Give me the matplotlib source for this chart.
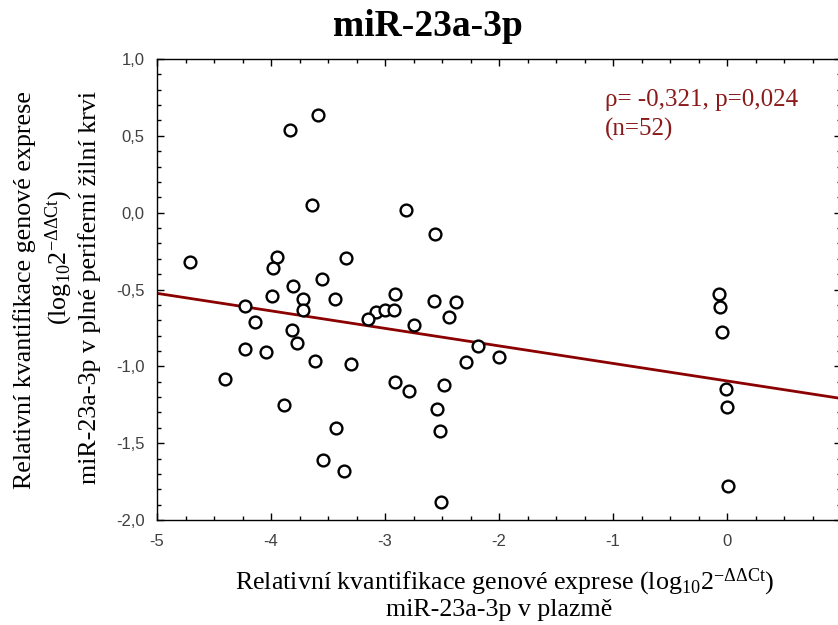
import numpy as np
import matplotlib
matplotlib.use("Agg")
import matplotlib.pyplot as plt
from matplotlib.ticker import MultipleLocator, FuncFormatter

plt.rcParams['mathtext.fontset'] = 'custom'
plt.rcParams['mathtext.rm'] = 'Liberation Serif'
plt.rcParams['mathtext.it'] = 'Liberation Serif:italic'

# plasma (x) vs whole blood (y), log10 2^-ddCt
plasma = [-3.59, -3.83, -3.64, -2.82, -2.56, -4.71, -3.95, -3.98, -3.34, -3.55,
          -3.81, -3.99, -3.72, -3.44, -2.91, -2.57, -2.38, -4.23, -3.72, -3.08,
          -3.00, -2.92, -3.15, -2.44, -4.14, -2.75,
          -3.82, -3.77, -4.23, -4.04, -2.18, -3.61, -3.30, -2.29, -2.00, -4.40,
          -2.91, -2.79, -2.48, -3.89, -2.54, -2.52, -3.43, -3.54, -3.36, -2.51,
          -0.07, -0.06, -0.04, -0.01, 0.00, 0.01]
blood = [0.638, 0.535, 0.047, 0.017, -0.141, -0.323, -0.288, -0.361, -0.294, -0.433,
         -0.476, -0.541, -0.563, -0.563, -0.528, -0.576, -0.584, -0.606, -0.636, -0.647,
         -0.636, -0.636, -0.693, -0.680, -0.710, -0.730,
         -0.766, -0.846, -0.890, -0.905, -0.868, -0.963, -0.985, -0.970, -0.940, -1.080,
         -1.100, -1.160, -1.120, -1.250, -1.280, -1.420, -1.400, -1.610, -1.680, -1.880,
         -0.532, -0.615, -0.779, -1.145, -1.266, -1.777]

# regression line
slope = -0.114
intercept = -1.095
line_x = [-5.0, 1.0]

title = "miR-23a-3p"
stats_line = "ρ= -0,321, p=0,024"
n_line = "(n=52)"

fig = plt.figure(figsize=(8.38, 6.25), dpi=100)
ax = fig.add_axes([157 / 838, 105 / 625, 684 / 838, 461 / 625])

lx = np.array(line_x)
ax.plot(lx, slope * lx + intercept, color='#8b0000', lw=2, zorder=2)
ax.plot(plasma, blood, 'o', ms=8.5, mfc='white', mec='black', mew=1.7, zorder=3)

ax.set_xlim(-5, 1)
ax.set_ylim(-2, 1)
ax.xaxis.set_major_locator(MultipleLocator(1))
ax.xaxis.set_minor_locator(MultipleLocator(0.25))
ax.yaxis.set_major_locator(MultipleLocator(0.5))
ax.yaxis.set_minor_locator(MultipleLocator(0.1))
# the x=1 label falls off the right edge in the original, so leave it blank
ax.xaxis.set_major_formatter(FuncFormatter(lambda v, p: "%d" % round(v) if v < 0.5 else ""))
ax.yaxis.set_major_formatter(FuncFormatter(lambda v, p: ("%.1f" % v).replace('.', ',')))
ax.tick_params(which='both', direction='in', top=True, right=True, width=1,
               labelsize=12, labelcolor='#404040')
ax.tick_params(which='major', length=5)
ax.tick_params(which='minor', length=3)
ax.tick_params(axis='x', pad=10)
ax.tick_params(axis='y', pad=9)
for lab in ax.get_xticklabels() + ax.get_yticklabels():
    lab.set_family('Liberation Sans')
for s in ax.spines.values():
    s.set_linewidth(1)

red = dict(color='#8b1a1a', fontsize=18, family='Liberation Serif', va='center', ha='left')
ax.text(-1.07, 0.73, stats_line, **red)
ax.text(-1.07, 0.54, n_line, **red)

fig.text(428 / 838, 1 - 27 / 625, title, ha='center', va='center', fontsize=27,
         fontweight='bold', family='Liberation Serif')

serif = dict(family='Liberation Serif', fontsize=18.7, ha='center', va='center')
fig.text(505 / 838, 1 - 582 / 625,
         r"Relativní kvantifikace genové exprese (log$_{10}$2$^{-\Delta\Delta\mathrm{Ct}}$)", **serif)
fig.text(499 / 838, 1 - 610 / 625, "miR-23a-3p v plazmě", **serif)

fig.text(25 / 838, 1 - 290 / 625, "Relativní kvantifikace genové exprese", rotation=90, **serif)
fig.text(59 / 838, 1 - 257 / 625, r"(log$_{10}$2$^{-\Delta\Delta\mathrm{Ct}}$)", rotation=90, **serif)
fig.text(90 / 838, 1 - 287 / 625, "miR-23a-3p v plné periferní žilní krvi", rotation=90, **serif)

fig.savefig("out.png", dpi=100)
